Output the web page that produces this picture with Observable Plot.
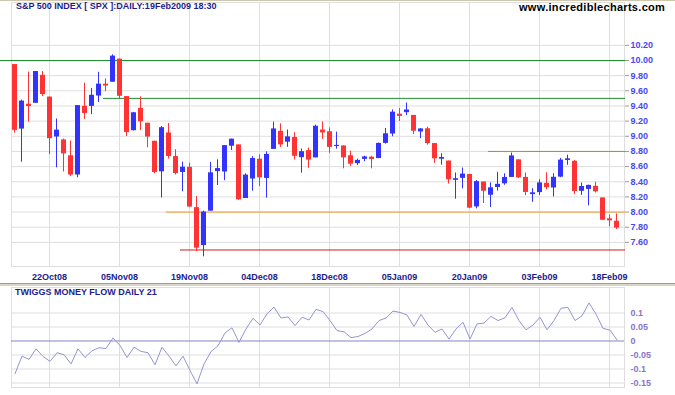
<!DOCTYPE html>
<html><head><meta charset="utf-8">
<script src="https://cdn.jsdelivr.net/npm/d3@7"></script>
<script src="https://cdn.jsdelivr.net/npm/@observablehq/plot@0.6"></script>
<style>
html,body{margin:0;padding:0;background:#fff;}
#wrap{position:relative;width:675px;height:395px;overflow:hidden;font-family:"Liberation Sans",Arial,sans-serif;}
.t{position:absolute;white-space:nowrap;font-weight:bold;}
#top,#bot{position:absolute;left:0;}
#top{top:0}
#bot{top:286px}
#sep{position:absolute;left:0;top:283px;width:675px;height:2px;border-top:1px solid #a29c8a;background:#d9d4c6;}
#edge{position:absolute;left:0;top:0;width:675px;height:1px;background:#cfc7ad;}
#title{left:16px;top:2px;font-size:9px;line-height:9px;color:#1c1c8e;}
#url{left:519px;top:1px;font-size:11px;line-height:12px;letter-spacing:0.3px;color:#000;}
#sub{left:15px;top:288px;font-size:9px;line-height:9px;color:#1c1c8e;}
</style></head>
<body><div id="wrap">
<div id="top"></div><div id="bot"></div><div id="sep"></div><div id="edge"></div>
<div class="t" id="title">S&amp;P 500 INDEX [ SPX ]:DAILY:19Feb2009 18:30</div>
<div class="t" id="url">www.incrediblecharts.com</div>
<div class="t" id="sub">TWIGGS MONEY FLOW DAILY 21</div>
</div>
<script>
const dates = ["2008-10-15","2008-10-16","2008-10-17","2008-10-20","2008-10-21","2008-10-22","2008-10-23","2008-10-24","2008-10-27","2008-10-28","2008-10-29","2008-10-30","2008-10-31","2008-11-03","2008-11-04","2008-11-05","2008-11-06","2008-11-07","2008-11-10","2008-11-11","2008-11-12","2008-11-13","2008-11-14","2008-11-17","2008-11-18","2008-11-19","2008-11-20","2008-11-21","2008-11-24","2008-11-25","2008-11-26","2008-11-28","2008-12-01","2008-12-02","2008-12-03","2008-12-04","2008-12-05","2008-12-08","2008-12-09","2008-12-10","2008-12-11","2008-12-12","2008-12-15","2008-12-16","2008-12-17","2008-12-18","2008-12-19","2008-12-22","2008-12-23","2008-12-24","2008-12-26","2008-12-29","2008-12-30","2008-12-31","2009-01-02","2009-01-05","2009-01-06","2009-01-07","2009-01-08","2009-01-09","2009-01-12","2009-01-13","2009-01-14","2009-01-15","2009-01-16","2009-01-20","2009-01-21","2009-01-22","2009-01-23","2009-01-26","2009-01-27","2009-01-28","2009-01-29","2009-01-30","2009-02-02","2009-02-03","2009-02-04","2009-02-05","2009-02-06","2009-02-09","2009-02-10","2009-02-11","2009-02-12","2009-02-13","2009-02-17","2009-02-18","2009-02-19"];

const open = [9.946,9.095,9.423,9.435,9.804,9.517,8.991,8.952,8.743,8.489,
9.395,9.394,9.531,9.687,9.713,10.018,9.524,9.074,9.368,9.172,
8.934,8.531,9.044,8.732,8.523,8.590,8.059,7.558,8.012,8.534,
8.529,8.869,8.886,8.179,8.436,8.698,8.444,8.827,9.065,8.922,
8.984,8.718,8.811,8.715,9.082,9.060,8.870,8.872,8.743,8.639,
8.695,8.724,8.706,8.906,9.030,9.292,9.312,9.275,9.057,9.099,
8.904,8.698,8.673,8.420,8.445,8.496,8.068,8.397,8.222,8.325,
8.373,8.457,8.689,8.457,8.231,8.257,8.378,8.318,8.461,8.682,
8.669,8.274,8.299,8.340,8.186,7.911,7.879];

const high = [9.946,9.477,9.846,9.854,9.854,9.517,9.228,8.963,8.938,9.405,
9.700,9.632,9.844,9.756,10.075,10.018,9.524,9.315,9.520,9.172,
8.934,9.130,9.169,8.823,8.659,8.646,8.205,8.012,8.656,8.689,
8.877,8.963,8.886,8.505,8.731,8.756,8.794,9.186,9.163,9.083,
9.046,8.832,8.846,9.147,9.189,9.110,9.055,8.874,8.804,8.698,
8.737,8.737,8.911,9.103,9.347,9.366,9.439,9.275,9.100,9.119,
8.904,8.770,8.673,8.516,8.581,8.496,8.417,8.397,8.386,8.525,
8.505,8.779,8.689,8.517,8.308,8.426,8.519,8.506,8.708,8.750,
8.681,8.382,8.355,8.394,8.186,7.962,7.976];

const low = [9.040,8.658,9.187,9.435,9.525,8.758,8.584,8.529,8.468,8.453,
9.223,9.285,9.446,9.588,9.713,9.499,8.997,9.069,9.075,8.849,
8.505,8.187,8.699,8.490,8.268,8.062,7.478,7.410,8.012,8.350,
8.414,8.812,8.157,8.179,8.276,8.336,8.184,8.827,8.854,8.855,
8.687,8.514,8.577,8.715,8.959,8.774,8.830,8.571,8.601,8.614,
8.665,8.571,8.706,8.897,8.994,9.195,9.273,9.024,8.968,8.883,
8.643,8.620,8.369,8.170,8.307,8.045,8.043,8.113,8.061,8.277,
8.354,8.457,8.442,8.217,8.129,8.220,8.292,8.199,8.454,8.617,
8.230,8.220,8.081,8.252,7.892,7.804,7.770];

const close = [9.078,9.464,9.406,9.854,9.551,8.968,9.081,8.768,8.489,9.405,
9.301,9.541,9.688,9.663,10.058,9.528,9.049,9.310,9.192,8.990,
8.523,9.113,8.733,8.508,8.591,8.066,7.524,8.000,8.518,8.574,
8.877,8.962,8.162,8.488,8.707,8.452,8.761,9.097,8.887,8.992,
8.736,8.797,8.686,9.132,9.044,8.853,8.879,8.716,8.632,8.682,
8.728,8.694,8.906,9.033,9.318,9.275,9.347,9.067,9.097,8.904,
8.703,8.718,8.426,8.437,8.501,8.052,8.402,8.275,8.320,8.366,
8.457,8.741,8.451,8.259,8.254,8.385,8.322,8.459,8.686,8.699,
8.272,8.337,8.352,8.268,7.892,7.884,7.789];

const moneyFlow = [-0.117,-0.054,-0.066,-0.028,-0.055,-0.073,-0.042,-0.049,-0.082,-0.028,
-0.059,-0.035,-0.024,-0.027,0.011,-0.016,-0.059,-0.022,-0.037,-0.042,
-0.085,-0.022,-0.054,-0.089,-0.054,-0.105,-0.153,-0.082,-0.038,-0.017,
0.029,0.047,-0.005,0.043,0.081,0.057,0.097,0.121,0.082,0.086,
0.055,0.085,0.075,0.113,0.105,0.073,0.037,0.033,0.012,0.016,
0.027,0.043,0.073,0.082,0.107,0.102,0.093,0.052,0.095,0.057,
0.031,0.043,0.007,0.043,0.067,0.007,0.061,0.064,0.088,0.073,
0.083,0.120,0.073,0.040,0.057,0.085,0.040,0.073,0.117,0.120,
0.073,0.090,0.136,0.096,0.045,0.039,0.004];

const priceTicks = [7.6,7.8,8.0,8.2,8.4,8.6,8.8,9.0,9.2,9.4,9.6,9.8,10.0,10.2];
const dateTicks = ["2008-10-22","2008-11-05","2008-11-19","2008-12-04","2008-12-18","2009-01-05","2009-01-20","2009-02-03","2009-02-18"];
const flowTicks = [0.1,0.05,0,-0.05,-0.1,-0.15];
const levelPrice = [10.0,9.5,8.8,8.0,7.5];
const levelStart = ["2008-10-15","2008-11-03","2009-01-23","2008-11-14","2008-11-18"];

// styles
const UP = "#3333ff", DOWN = "#ff3333", GRID = "#dedede";
const levelColors = ["#1f8f2f","#1f8f2f","#9a9a1e","#f0982a","#d41a1a"];
const levelInsetLeft = [-12,0,0,0,0];

const bars = dates.map((d,i)=>({date:d, open:open[i], high:high[i], low:low[i], close:close[i], col: close[i]>=open[i]?UP:DOWN}));
const flow = dates.map((d,i)=>({date:d, mf:moneyFlow[i]}));
const lastDate = dates[dates.length-1];
const levels = levelPrice.map((p,i)=>({price:p, start:levelStart[i], end:lastDate}));

const parse = d3.utcParse("%Y-%m-%d"), fmt = d3.utcFormat("%d%b%y");
const fmtDate = d => fmt(parse(d));
const font = {fontFamily:"'Liberation Sans', Arial, sans-serif", fontSize:"9px", background:"transparent", overflow:"visible"};
const xScale = () => ({type:"band", domain:dates, range:[11,620], paddingInner:2/7, paddingOuter:1/7, align:0.5, round:false, axis:null, label:null});

const topChart = Plot.plot({
  width:675, height:283, marginTop:2, marginBottom:17, marginLeft:11, marginRight:51,
  style:font,
  x:xScale(),
  y:{domain:[7.282,10.765], axis:null, label:null},
  color:{type:"identity"},
  marks:[
    Plot.gridY(priceTicks, {stroke:GRID, strokeOpacity:1}),
    Plot.gridX(dateTicks, {stroke:GRID, strokeOpacity:1, dx:-0.5}),
    Plot.frame({stroke:GRID}),
    ...levels.map((l,i)=>Plot.ruleY([l], {y:"price", x1:"start", x2:"end", stroke:levelColors[i], insetLeft:levelInsetLeft[i], insetRight:-6})),
    Plot.ruleX(bars, {x:"date", y1:"low", y2:"high", stroke:"col", dx:-0.5}),
    Plot.barY(bars, {x:"date", y1:"open", y2:"close", fill:"col"}),
    Plot.tickY(bars, {x:"date", y:"close", stroke:"col", filter:d=>Math.abs(d.open-d.close)<0.02}),
    Plot.axisX(dateTicks, {anchor:"bottom", label:null, tickSize:0, tickPadding:7, tickFormat:fmtDate, fill:"#1c1c8e", fontWeight:"bold", fontSize:9, dx:-0.5}),
    Plot.axisY(priceTicks, {anchor:"right", label:null, tickSize:4, tickPadding:2, tickFormat:d3.format(".2f"), fill:"#4747f5", stroke:"#9a9a9a", fontWeight:"bold", fontSize:9})
  ]
});
document.getElementById("top").appendChild(topChart);

const botChart = Plot.plot({
  width:675, height:109, marginTop:1, marginBottom:8, marginLeft:11, marginRight:51,
  style:font,
  x:xScale(),
  y:{domain:[-0.1661,0.1911], axis:null, label:null},
  marks:[
    Plot.gridY(flowTicks.filter(v=>v!==0), {stroke:GRID, strokeOpacity:1}),
    Plot.gridX(dateTicks, {stroke:GRID, strokeOpacity:1, dx:-0.5}),
    Plot.frame({stroke:GRID}),
    Plot.ruleY([0], {stroke:"#8585c8"}),
    Plot.line(flow, {x:"date", y:"mf", stroke:"#9494d4", strokeWidth:1}),
    Plot.axisY(flowTicks, {anchor:"right", label:null, tickSize:0, tickPadding:6, tickFormat:d=>String(d), fill:"#8676cc", fontWeight:"bold", fontSize:9})
  ]
});
document.getElementById("bot").appendChild(botChart);
</script>
</body></html>
